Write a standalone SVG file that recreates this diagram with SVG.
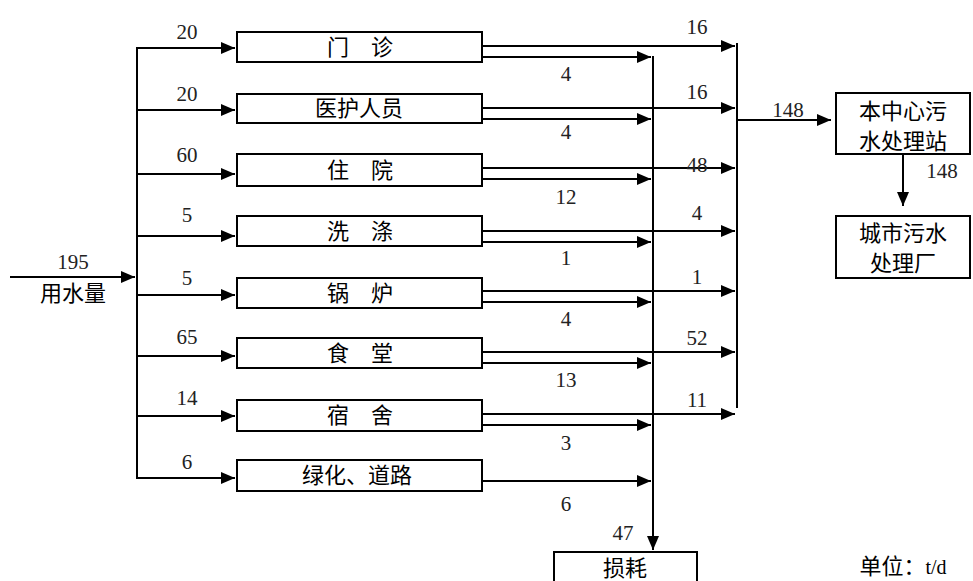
<svg xmlns="http://www.w3.org/2000/svg" width="973" height="581" viewBox="0 0 973 581">
<style>
.ln{stroke:#000;stroke-width:2;fill:none}
.ar{stroke:#000;stroke-width:2;fill:none;marker-end:url(#ah)}
.bx{fill:#fff;stroke:#000;stroke-width:2}
.num{font-family:"Liberation Serif","Times New Roman",serif;font-size:21px;fill:#222;text-anchor:middle}
.cj{font-family:"Noto Sans CJK SC","Noto Sans",sans-serif;font-size:22px;fill:#000;text-anchor:middle}
</style>
<defs>
<marker id="ah" markerUnits="userSpaceOnUse" markerWidth="16" markerHeight="12" refX="14" refY="6" orient="auto">
<path d="M0,0 L14,6 L0,12 Z" fill="#000"/>
</marker>
</defs>
<rect width="973" height="581" fill="#fff"/>
<g id="connectors">
<line class="ar" x1="10" y1="277" x2="135" y2="277"/>
<line class="ln" x1="137" y1="47" x2="137" y2="479"/>
<line class="ar" x1="137" y1="48" x2="235" y2="48"/>
<line class="ar" x1="137" y1="110" x2="235" y2="110"/>
<line class="ar" x1="137" y1="174" x2="235" y2="174"/>
<line class="ar" x1="137" y1="236" x2="235" y2="236"/>
<line class="ar" x1="137" y1="295" x2="235" y2="295"/>
<line class="ar" x1="137" y1="356" x2="235" y2="356"/>
<line class="ar" x1="137" y1="416" x2="235" y2="416"/>
<line class="ar" x1="137" y1="478" x2="235" y2="478"/>
<line class="ar" x1="482" y1="46" x2="735" y2="46"/>
<line class="ar" x1="482" y1="108" x2="735" y2="108"/>
<line class="ar" x1="482" y1="168" x2="735" y2="168"/>
<line class="ar" x1="482" y1="231" x2="735" y2="231"/>
<line class="ar" x1="482" y1="291" x2="735" y2="291"/>
<line class="ar" x1="482" y1="352" x2="735" y2="352"/>
<line class="ar" x1="482" y1="414" x2="735" y2="414"/>
<line class="ar" x1="482" y1="57" x2="651" y2="57"/>
<line class="ar" x1="482" y1="119" x2="651" y2="119"/>
<line class="ar" x1="482" y1="179" x2="651" y2="179"/>
<line class="ar" x1="482" y1="242" x2="651" y2="242"/>
<line class="ar" x1="482" y1="302" x2="651" y2="302"/>
<line class="ar" x1="482" y1="363" x2="651" y2="363"/>
<line class="ar" x1="482" y1="425" x2="651" y2="425"/>
<line class="ar" x1="482" y1="481" x2="651" y2="481"/>
<line class="ln" x1="737" y1="43" x2="737" y2="408"/>
<line class="ar" x1="737" y1="120" x2="831" y2="120"/>
<line class="ar" x1="653" y1="56" x2="653" y2="550"/>
<line class="ar" x1="903" y1="154" x2="903" y2="206"/>
</g>
<g id="labels">
<text class="num" x="187" y="39">20</text>
<text class="num" x="187" y="101">20</text>
<text class="num" x="187" y="162">60</text>
<text class="num" x="187" y="222">5</text>
<text class="num" x="187" y="285">5</text>
<text class="num" x="187" y="344">65</text>
<text class="num" x="187" y="405">14</text>
<text class="num" x="187" y="469">6</text>
<text class="num" x="697" y="34">16</text>
<text class="num" x="697" y="99">16</text>
<text class="num" x="697" y="172">48</text>
<text class="num" x="697" y="220">4</text>
<text class="num" x="697" y="284">1</text>
<text class="num" x="697" y="345">52</text>
<text class="num" x="697" y="407">11</text>
<text class="num" x="566" y="81">4</text>
<text class="num" x="566" y="139">4</text>
<text class="num" x="566" y="204">12</text>
<text class="num" x="566" y="265">1</text>
<text class="num" x="566" y="326">4</text>
<text class="num" x="566" y="387">13</text>
<text class="num" x="566" y="450">3</text>
<text class="num" x="566" y="511">6</text>
<text class="num" x="623" y="540">47</text>
<text class="num" x="788" y="117">148</text>
<text class="num" x="942" y="178">148</text>
<text class="num" x="73" y="269">195</text>
<text class="cj" x="73" y="301">用水量</text>
<text class="cj" x="903" y="574">单位：<tspan font-family="Liberation Serif, serif" font-size="20">t/d</tspan></text>
</g>
<g id="n-menzhen"><rect class="bx" x="237" y="32" width="245" height="30"/><text class="cj" x="338 382" y="55">门诊</text></g>
<g id="n-yihu"><rect class="bx" x="237" y="94" width="245" height="29"/><text class="cj" x="359" y="116">医护人员</text></g>
<g id="n-zhuyuan"><rect class="bx" x="237" y="154" width="245" height="32"/><text class="cj" x="338 382" y="178">住院</text></g>
<g id="n-xidi"><rect class="bx" x="237" y="216" width="245" height="30"/><text class="cj" x="338 382" y="239">洗涤</text></g>
<g id="n-guolu"><rect class="bx" x="237" y="278" width="245" height="30"/><text class="cj" x="338 382" y="301">锅炉</text></g>
<g id="n-shitang"><rect class="bx" x="237" y="338" width="245" height="30"/><text class="cj" x="338 382" y="361">食堂</text></g>
<g id="n-sushe"><rect class="bx" x="237" y="400" width="245" height="31"/><text class="cj" x="338 382" y="423">宿舍</text></g>
<g id="n-lvhua"><rect class="bx" x="237" y="460" width="245" height="31"/><text class="cj" x="357" y="483">绿化、道路</text></g>
<g id="n-station"><rect class="bx" x="836" y="93" width="134" height="61"/><text class="cj" x="903" y="119" font-size="23">本中心污</text><text class="cj" x="903" y="149" font-size="23">水处理站</text></g>
<g id="n-city"><rect class="bx" x="836" y="216" width="134" height="62"/><text class="cj" x="903" y="241" font-size="23">城市污水</text><text class="cj" x="903" y="271" font-size="23">处理厂</text></g>
<g id="n-loss"><rect class="bx" x="554" y="552" width="143" height="40"/><text class="cj" x="625" y="576">损耗</text></g>
</svg>
